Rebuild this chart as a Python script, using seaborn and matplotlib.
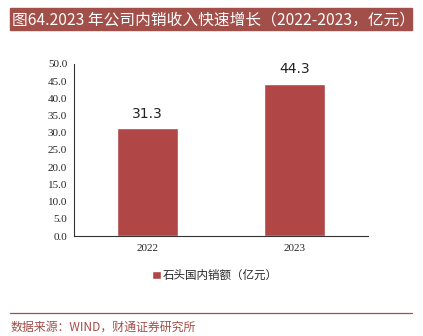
import matplotlib
matplotlib.use("Agg")
import matplotlib.pyplot as plt
import seaborn as sns
import pandas as pd

years = ["2022", "2023"]
sales = [31.3, 44.3]
series_name = "石头国内销额（亿元）"
title_text = "图64.2023 年公司内销收入快速增长（2022-2023，亿元）"
source_text = "数据来源：WIND，财通证券研究所"
y_ticks = [0, 5, 10, 15, 20, 25, 30, 35, 40, 45, 50]

bar_color = "#B04646"
brand_color = "#A24E49"

sns.set_theme(style="white")
plt.rcParams["font.family"] = ["Noto Sans CJK SC", "DejaVu Sans"]

df = pd.DataFrame({"year": years, "value": sales, "series": series_name})

fig = plt.figure(figsize=(4.23, 3.36), dpi=100)
ax = fig.add_axes([0.175, 0.2976, 0.695, 0.512])

sns.barplot(data=df, x="year", y="value", hue="series", palette=[bar_color],
            width=0.41, ax=ax, saturation=1)

ax.set_ylim(0, 50)
ax.set_xlim(-0.5, 1.5)
ax.set_yticks(y_ticks)
ax.set_yticklabels([f"{t:.1f}" for t in y_ticks], family="Liberation Serif", fontsize=8)
ax.set_xticks([0, 1])
ax.set_xticklabels(years, family="Liberation Serif", fontsize=8)
ax.set_xticks([-0.5, 0.5, 1.5], minor=True)
ax.tick_params(axis="x", which="major", length=0, pad=6)
ax.tick_params(axis="x", which="minor", length=3, width=0.8, color="#333333", direction="out")
ax.tick_params(axis="y", length=3, width=0.8, color="#333333", direction="out", pad=2)
ax.set_xlabel("")
ax.set_ylabel("")

for s in ["top", "right"]:
    ax.spines[s].set_visible(False)
for s in ["left", "bottom"]:
    ax.spines[s].set_color("#333333")
    ax.spines[s].set_linewidth(0.8)

for i, v in enumerate(sales):
    ax.text(i, v + 2.2, f"{v:.1f}", ha="center", va="bottom", fontsize=10,
            family="DejaVu Sans", color="#222222")

ax.legend(loc="upper center", bbox_to_anchor=(0.48, -0.13), frameon=False,
          fontsize=8.3, handlelength=0.75, handleheight=0.75, handletextpad=0.15)

# title banner
fig.patches.append(plt.Rectangle((10 / 423, 1 - 30 / 336), 402 / 423, 22 / 336,
                                 transform=fig.transFigure, color=brand_color, zorder=0))
fig.text(12 / 423, 1 - 19.5 / 336, title_text, color="white", fontsize=11.3,
         va="center", ha="left")

# footer rule and source
fig.add_artist(plt.Line2D([10 / 423, 412 / 423], [1 - 313 / 336] * 2,
                          transform=fig.transFigure, color=brand_color, lw=0.9))
fig.text(10 / 423, 1 - 327 / 336, source_text, color=brand_color, fontsize=8.6,
         va="center", ha="left")

fig.savefig("out.png", dpi=100)
